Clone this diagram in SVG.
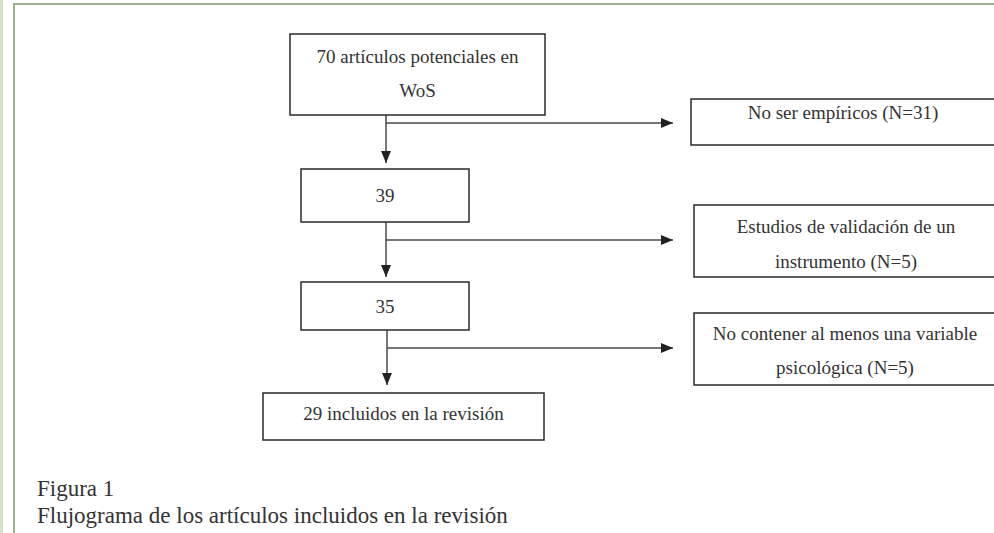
<svg xmlns="http://www.w3.org/2000/svg" width="994" height="533" viewBox="0 0 994 533">
  <style>
    .box { fill: #ffffff; stroke: #2a2a2a; stroke-width: 1.5; }
    .lbl { font-family: "Liberation Serif", "Times New Roman", serif; font-size: 19px; fill: #333333; text-anchor: middle; }
    .cap { font-family: "Liberation Serif", "Times New Roman", serif; font-size: 23px; fill: #333333; }
    .conn { fill: none; stroke: #4a4a4a; stroke-width: 1.5; }
  </style>
  <defs>
    <marker id="arrow" markerUnits="userSpaceOnUse" markerWidth="12" markerHeight="10" refX="12" refY="5" orient="auto">
      <path d="M0,0 L12,5 L0,10 Z" fill="#222222"/>
    </marker>
  </defs>
  <rect x="0" y="0" width="994" height="533" fill="#ffffff"/>
  <g id="frame">
    <rect x="0" y="0" width="3" height="533" fill="#d6e0cb"/>
    <rect x="13" y="3" width="2" height="530" fill="#9cb08a"/>
    <rect x="13" y="3" width="981" height="2" fill="#9cb08a"/>
  </g>
  <g id="connectors">
    <path class="conn" d="M386,115 V163" marker-end="url(#arrow)"/>
    <path class="conn" d="M386,123 H673" marker-end="url(#arrow)"/>
    <path class="conn" d="M386,222 V277" marker-end="url(#arrow)"/>
    <path class="conn" d="M386,240 H673" marker-end="url(#arrow)"/>
    <path class="conn" d="M387,330 V385" marker-end="url(#arrow)"/>
    <path class="conn" d="M387,348 H673" marker-end="url(#arrow)"/>
  </g>
  <g id="n70">
    <rect class="box" x="290" y="34" width="255" height="81"/>
    <text class="lbl" x="417.5" y="63">70 artículos potenciales en</text>
    <text class="lbl" x="417.5" y="97">WoS</text>
  </g>
  <g id="n39">
    <rect class="box" x="301" y="169" width="168" height="53"/>
    <text class="lbl" x="385" y="202">39</text>
  </g>
  <g id="n35">
    <rect class="box" x="301" y="282" width="168" height="48"/>
    <text class="lbl" x="385" y="313">35</text>
  </g>
  <g id="n29">
    <rect class="box" x="263" y="393" width="281" height="47"/>
    <text class="lbl" x="403.5" y="420">29 incluidos en la revisión</text>
  </g>
  <g id="exc1">
    <rect class="box" x="691" y="99" width="310" height="46"/>
    <text class="lbl" x="843" y="119">No ser empíricos (N=31)</text>
  </g>
  <g id="exc2">
    <rect class="box" x="694" y="205" width="310" height="72"/>
    <text class="lbl" x="846" y="233">Estudios de validación de un</text>
    <text class="lbl" x="846" y="268">instrumento (N=5)</text>
  </g>
  <g id="exc3">
    <rect class="box" x="694" y="313" width="310" height="72"/>
    <text class="lbl" x="845" y="340">No contener al menos una variable</text>
    <text class="lbl" x="845" y="374">psicológica (N=5)</text>
  </g>
  <g id="caption">
    <text class="cap" x="37" y="496">Figura 1</text>
    <text class="cap" x="37" y="523">Flujograma de los artículos incluidos en la revisión</text>
  </g>
</svg>
